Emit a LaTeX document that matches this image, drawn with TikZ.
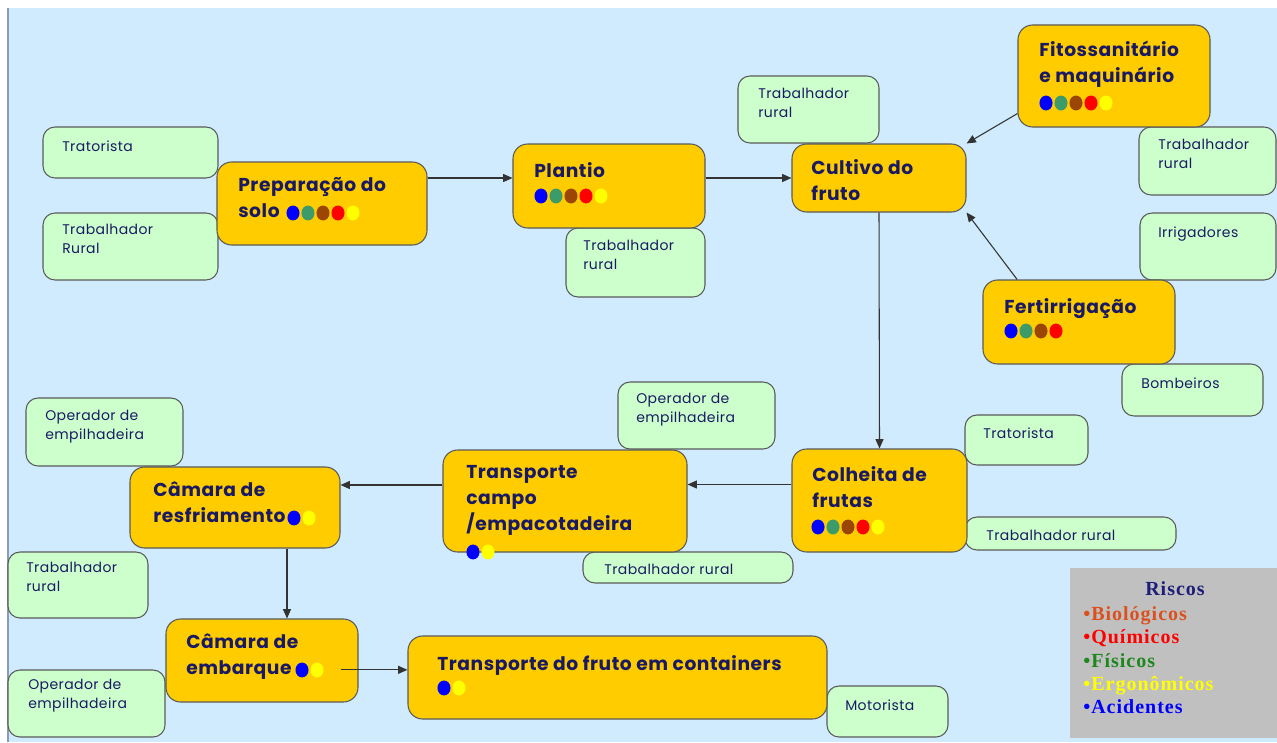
\documentclass[tikz,border=0pt]{standalone}
\usepackage{fontspec}
\usetikzlibrary{fit,arrows.meta}
\newfontfamily\stagefont[LetterSpace=3]{Poppins}
\newfontfamily\rolefont[LetterSpace=3]{Poppins}
\newfontfamily\legfont[LetterSpace=5]{Liberation Serif}
\definecolor{bgblue}{RGB}{207,235,253}
\definecolor{edgeblue}{RGB}{140,155,185}
\definecolor{boxorange}{RGB}{255,204,0}
\definecolor{boxgreen}{RGB}{204,255,204}
\definecolor{boxline}{RGB}{90,90,90}
\definecolor{navytext}{RGB}{26,26,100}
\definecolor{dotblue}{RGB}{0,0,255}
\definecolor{dotgreen}{RGB}{60,155,105}
\definecolor{dotbrown}{RGB}{155,70,5}
\definecolor{dotred}{RGB}{255,0,0}
\definecolor{dotyellow}{RGB}{255,255,0}
\definecolor{legendgray}{RGB}{192,192,192}
\definecolor{riskorange}{RGB}{220,80,30}
\definecolor{riskgreen}{RGB}{30,135,30}
\definecolor{risknavy}{RGB}{30,30,120}

\begin{document}
\begin{tikzpicture}[x=0.75pt,y=-0.75pt,
    stagebox/.style={draw=boxline, fill=boxorange, rounded corners=11pt, line width=0.8pt, inner sep=0pt},
    rolebox/.style={draw=boxline, fill=boxgreen, rounded corners=9pt, line width=0.8pt, inner sep=0pt},
    stagetext/.style={font=\stagefont\bfseries\fontsize{14}{19.5}\selectfont, text=navytext, align=left,
        inner sep=0pt, anchor=north west, execute at begin node=\strut},
    roletext/.style={font=\rolefont\fontsize{10.5}{14.25}\selectfont, text=navytext, align=left,
        inner sep=0pt, anchor=north west, execute at begin node=\strut},
    legtext/.style={font=\legfont\bfseries\fontsize{15}{18}\selectfont, inner sep=0pt, anchor=base west},
    flow/.style={draw=black!80, line width=0.8pt, -{Triangle[length=7pt,width=6pt]}}]
    \useasboundingbox (0,0) rectangle (1277,742);
    \fill[bgblue] (8,8) rectangle (1277,742);
    \draw[edgeblue, line width=1.5pt] (8,8) -- (8,742);

    % roles (behind the stages)
    \node[rolebox, fit={(43,127) (218,178)}] (trat1) {};
    \node[rolebox, fit={(43,213) (218,280)}] (trab1) {};
    \node[rolebox, fit={(566,228) (705,297)}] (trab2) {};
    \node[rolebox, fit={(738,76) (879,143)}] (trab3) {};
    \node[rolebox, fit={(1139,127) (1276,195)}] (trab4) {};
    \node[rolebox, fit={(1140,213) (1276,280)}] (irrig) {};
    \node[rolebox, fit={(1122,364) (1263,416)}] (bomb) {};
    \node[rolebox, fit={(965,415) (1088,465)}] (trat2) {};
    \node[rolebox, fit={(965,517) (1176,550)}] (trab5) {};
    \node[rolebox, fit={(618,382) (775,449)}] (oper1) {};
    \node[rolebox, fit={(583,552) (793,583)}] (trab6) {};
    \node[rolebox, fit={(26,398) (183,466)}] (oper2) {};
    \node[rolebox, fit={(8,552) (148,618)}] (trab7) {};
    \node[rolebox, fit={(8,670) (165,737)}] (oper3) {};
    \node[rolebox, fit={(827,686) (948,737)}] (motor) {};

    \node[roletext] (trat1t) at (62,138) {Tratorista};
    \node[roletext] (trab1t) at (62,224) {Trabalhador\\Rural};
    \node[roletext] (trab2t) at (583,240) {Trabalhador\\rural};
    \node[roletext] (trab3t) at (758,88) {Trabalhador\\rural};
    \node[roletext] (trab4t) at (1158,139) {Trabalhador\\rural};
    \node[roletext] (irrigt) at (1158,224) {Irrigadores};
    \node[roletext] (bombt) at (1141,375) {Bombeiros};
    \node[roletext] (trat2t) at (983,425) {Tratorista};
    \node[roletext] (trab5t) at (986,527) {Trabalhador rural};
    \node[roletext] (oper1t) at (636,393) {Operador de\\empilhadeira};
    \node[roletext] (trab6t) at (604,561) {Trabalhador rural};
    \node[roletext] (oper2t) at (45,410) {Operador de\\empilhadeira};
    \node[roletext] (trab7t) at (26,562) {Trabalhador\\rural};
    \node[roletext] (oper3t) at (28,679) {Operador de\\empilhadeira};
    \node[roletext] (motort) at (845,697) {Motorista};

    % stages
    \node[stagebox, fit={(217,162) (427,245)}] (prep) {};
    \node[stagebox, fit={(513,144) (705,228)}] (plant) {};
    \node[stagebox, fit={(792,144) (966,212)}] (cult) {};
    \node[stagebox, fit={(1018,25) (1210,127)}] (fito) {};
    \node[stagebox, fit={(983,280) (1175,364)}] (fert) {};
    \node[stagebox, fit={(792,449) (967,552)}] (colh) {};
    \node[stagebox, fit={(443,450) (687,552)}] (tc) {};
    \node[stagebox, fit={(130,467) (340,548)}] (resf) {};
    \node[stagebox, fit={(166,619) (358,702)}] (emb) {};
    \node[stagebox, fit={(408,636) (827,719)}] (cont) {};

    \node[stagetext] (prept) at (238,177) {Preparação do\\solo};
    \node[stagetext] (plantt) at (534,159) {Plantio};
    \node[stagetext] (cultt) at (811,159) {Cultivo do\\fruto};
    \node[stagetext] (fitot) at (1039,41) {Fitossanitário\\e maquinário};
    \node[stagetext] (fertt) at (1004,295) {Fertirrigação};
    \node[stagetext] (colht) at (812,466) {Colheita de\\frutas};
    \node[stagetext] (tct) at (466,465) {Transporte\\campo\\/empacotadeira};
    \node[stagetext] (resft) at (153,481) {Câmara de\\resfriamento};
    \node[stagetext] (embt) at (186,633) {Câmara de\\embarque};
    \node[stagetext] (contt) at (437,652) {Transporte do fruto em containers};

    % risk dots
    \foreach \x/\y in {293/213, 541/196, 1046/103, 818/527}{
        \foreach \c [count=\i from 0] in {dotblue,dotgreen,dotbrown,dotred,dotyellow}{
            \fill[\c] (\x+15*\i,\y) ellipse (4.9pt and 5.6pt);
        }
    }
    \foreach \c [count=\i from 0] in {dotblue,dotgreen,dotbrown,dotred}{
        \fill[\c] (1011+15*\i,331) ellipse (4.9pt and 5.6pt);
    }
    \foreach \x/\y in {473/552, 294/518, 302/670, 444/688}{
        \fill[dotblue] (\x,\y) ellipse (4.9pt and 5.6pt);
        \fill[dotyellow] (\x+15,\y) ellipse (4.9pt and 5.6pt);
    }

    % flow
    \coordinate (colhout) at ([yshift=12pt]colh.west);
    \coordinate (tcout) at ([yshift=12pt]tc.west);
    \coordinate (resfout) at ([xshift=39pt]resf.south);
    \coordinate (embout) at ([shift={(-13.5pt,-7pt)}]emb.east);
    \draw[flow] (prep.east |- cult.west) -- (plant.west |- cult.west);
    \draw[flow] (plant.east |- cult.west) -- (cult.west);
    \draw[flow] ([yshift=10.5pt]fito.south west) -- (cult.north east);
    \draw[flow] ([xshift=26pt]fert.north west) -- (cult.south east);
    \draw[flow] (cult.south) -- (colh.north);
    \draw[flow] (colhout) -- (colhout -| tc.east);
    \draw[flow] (tcout) -- (tcout -| resf.east);
    \draw[flow] (resfout) -- (resfout |- emb.north);
    \draw[flow] (embout) -- (embout -| cont.west);

    % legend
    \node[fill=legendgray, inner sep=0pt, fit={(1070,568) (1277,738)}] (legend) {};
    \node[legtext, anchor=base, text=risknavy] (riscos) at (1175,595) {Riscos};
    \node[legtext, text=riskorange] (biol) at (1083,620) {•Biológicos};
    \node[legtext, text=dotred] (quim) at (1083,643) {•Químicos};
    \node[legtext, text=riskgreen] (fis) at (1083,667) {•Físicos};
    \node[legtext, text=dotyellow] (ergo) at (1083,690) {•Ergonômicos};
    \node[legtext, text=dotblue] (acid) at (1083,713) {•Acidentes};
\end{tikzpicture}
\end{document}
